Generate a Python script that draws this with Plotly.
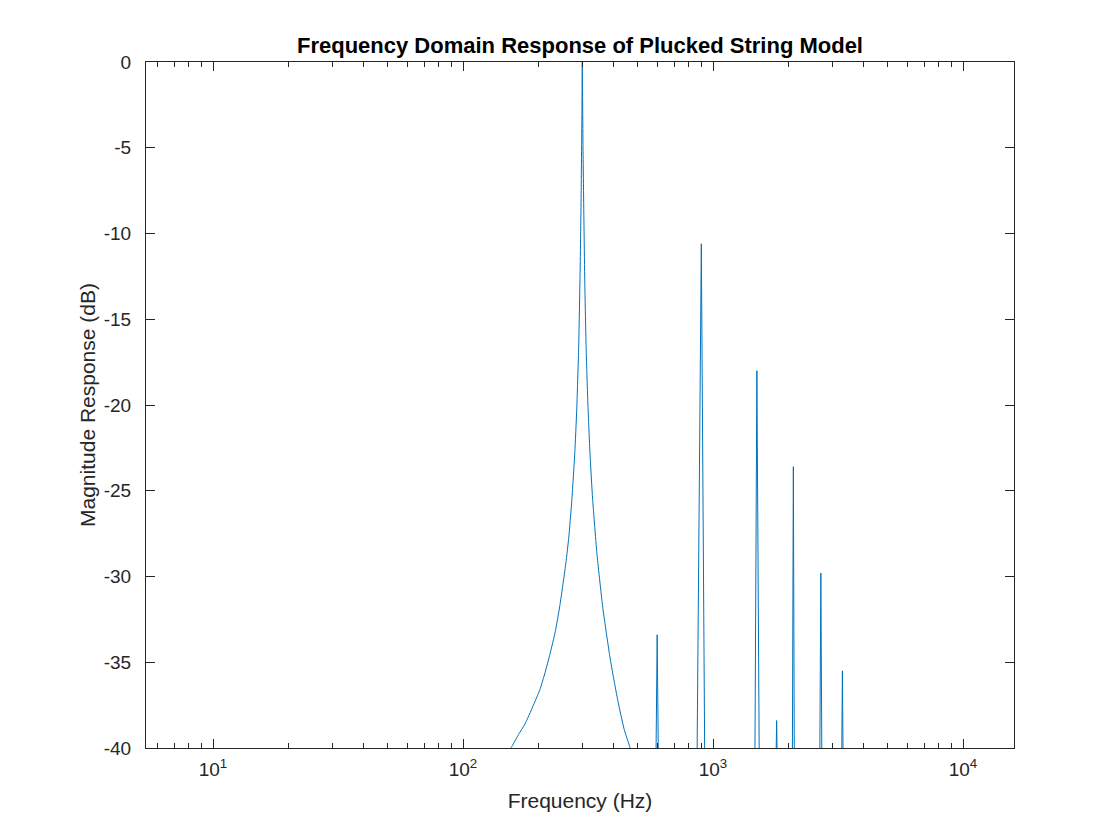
import plotly.graph_objects as go

# ---- data ----
# broad fundamental resonance (Hz, dB)
fund_freq = [147, 157, 167, 177, 190, 203, 213, 223, 234, 244, 258, 265, 272, 280, 285, 290, 294, 297, 299, 300,
             302, 305, 307, 311, 316, 322, 330, 344, 363, 387, 400, 417, 441, 466, 492]
fund_db = [-40.5, -39.9, -39.2, -38.6, -37.6, -36.6, -35.6, -34.5, -33.2, -31.7, -29.2, -27.7, -25.7, -22.8,
           -20.3, -16.8, -12.3, -7.5, -3.0, 0.0,
           -5.0, -9.9, -12.8, -16.8, -20.0, -22.8, -25.5, -28.8, -31.9, -34.7, -35.9, -37.3, -38.9, -40.0, -41.6]

# narrow harmonic spikes: peak frequency, peak level, and the -40 dB crossings
spike_freq = [598, 898, 1498, 1797, 2096, 2700, 3293]
spike_db = [-33.4, -10.6, -18.0, -38.4, -23.6, -29.8, -35.5]
spike_lo = [592, 864, 1472, 1790, 2078, 2676, 3275]
spike_hi = [604, 926, 1530, 1804, 2114, 2724, 3311]
floor_db = -40.0

x_major = [10, 100, 1000, 10000]
x_major_text = ["10<sup>1</sup>", "10<sup>2</sup>", "10<sup>3</sup>", "10<sup>4</sup>"]
y_ticks = [-40, -35, -30, -25, -20, -15, -10, -5, 0]
y_tick_text = ["-40", "-35", "-30", "-25", "-20", "-15", "-10", "-5", "0"]

# ---- assemble the spikes ----
sx, sy = [], []
for f, d, lo, hi in zip(spike_freq, spike_db, spike_lo, spike_hi):
    sx += [lo, f, hi, None]
    sy += [floor_db, d, floor_db, None]

FONT = "Liberation Sans, Arial, Helvetica, sans-serif"
INK = "#262626"
BLUE = "#0072BD"

fig = go.Figure()
fig.add_trace(go.Scatter(x=fund_freq, y=fund_db, mode="lines",
                         line=dict(color=BLUE, width=1, shape="spline", smoothing=0.5),
                         showlegend=False, hoverinfo="skip"))
fig.add_trace(go.Scatter(x=sx, y=sy, mode="lines", connectgaps=False,
                         line=dict(color=BLUE, width=1),
                         showlegend=False, hoverinfo="skip"))

fig.update_layout(
    width=1120, height=840,
    margin=dict(l=138, r=114, t=54, b=100),
    paper_bgcolor="white", plot_bgcolor="white",
    font=dict(family=FONT, color=INK, size=19),
    title=dict(text="<b>Frequency Domain Response of Plucked String Model</b>",
               font=dict(family=FONT, size=22, color="black"),
               x=0.5, xref="paper", xanchor="center",
               y=1 - 37 / 840, yref="container", yanchor="middle"),
)

fig.update_xaxes(
    type="log", range=[0.732, 4.204],
    tickmode="array", tickvals=x_major, ticktext=x_major_text,
    ticks="inside", ticklen=9, tickwidth=1, tickcolor=INK,
    minor=dict(dtick="D1", ticks="inside", ticklen=5, tickwidth=1, tickcolor=INK, showgrid=False),
    showline=True, linecolor=INK, linewidth=1, mirror="ticks",
    showgrid=False, zeroline=False,
    tickfont=dict(size=19, color=INK), ticklabelstandoff=4,
    title=dict(text="Frequency (Hz)", font=dict(size=21, color=INK), standoff=14),
)
fig.update_yaxes(
    range=[-40, 0],
    tickmode="array", tickvals=y_ticks, ticktext=y_tick_text,
    ticks="inside", ticklen=9, tickwidth=1, tickcolor=INK,
    showline=True, linecolor=INK, linewidth=1, mirror="ticks",
    showgrid=False, zeroline=False,
    tickfont=dict(size=19, color=INK), ticklabelstandoff=10,
    title=dict(text="Magnitude Response (dB)", font=dict(size=21, color=INK), standoff=2),
)

fig.write_html("out.html")
